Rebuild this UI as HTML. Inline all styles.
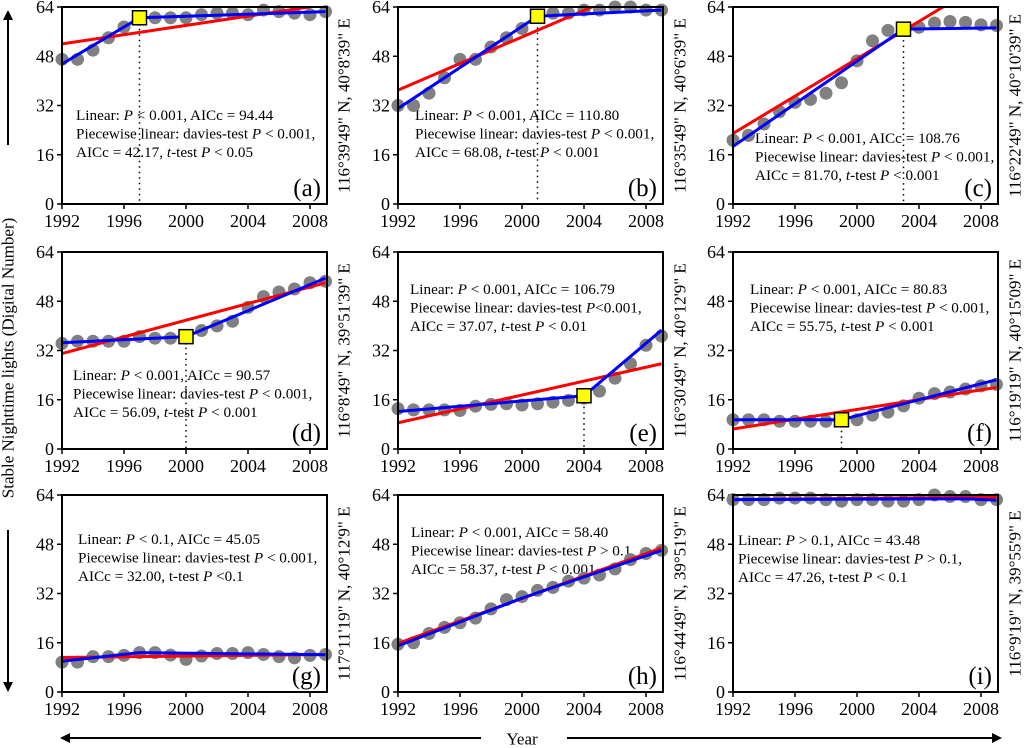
<!DOCTYPE html>
<html><head><meta charset="utf-8">
<style>
body{margin:0;background:#fff;}
svg{display:block;font-family:"Liberation Serif",serif;}
</style></head>
<body>
<svg id="chart" width="1024" height="748" viewBox="0 0 1024 748" xmlns="http://www.w3.org/2000/svg">
<defs>
<marker id="ah" markerWidth="10" markerHeight="10" refX="8" refY="5" orient="auto" markerUnits="userSpaceOnUse"><path d="M0,0 L10,5 L0,10 Z" fill="#000"/></marker>
</defs>
<g>
<line x1="8" y1="145" x2="8" y2="12" stroke="#000" stroke-width="2" marker-end="url(#ah)"/>
<line x1="8" y1="530" x2="8" y2="690" stroke="#000" stroke-width="2" marker-end="url(#ah)"/>
<text x="8" y="358" font-size="17" text-anchor="middle" dominant-baseline="central" transform="rotate(-90 8 358)">Stable Nighttime lights (Digital Number)</text>
</g>
<g>
<line x1="481" y1="738" x2="62" y2="738" stroke="#000" stroke-width="2" marker-end="url(#ah)"/>
<line x1="567" y1="738" x2="1000" y2="738" stroke="#000" stroke-width="2" marker-end="url(#ah)"/>
<text x="522" y="739" font-size="17" text-anchor="middle" dominant-baseline="central">Year</text>
</g>
</svg>
<script>
const years=[1992,1993,1994,1995,1996,1997,1998,1999,2000,2001,2002,2003,2004,2005,2006,2007,2008,2009];
const xTicks=[1992,1996,2000,2004,2008];
const yTicks=[0,16,32,48,64];
const valsA=[47,47,50,54,57.5,60,60.5,60.5,60.5,61.5,62,62,61.5,63,62.5,62,61.5,62.5];
const valsB=[32,32,36,41,47,47,51,54,57,61,62,62,63,63,64,64,63,63];
const valsC=[20.7,22.3,26,30,33,34,36,39.4,46.5,53,56.4,56.5,57.4,58.8,59.3,59,58.2,58];
const valsD=[34.3,35,35,35,35,36.5,36,36,36,38.5,40,41.5,46,49.5,51,52,54,54.5];
const valsE=[13.1,12.7,12.7,12.7,12.5,13.9,14.5,14.7,14.3,14.7,15.2,15.8,16.5,18.8,23,27.7,33.7,36.7];
const valsF=[9.5,9.5,9.5,9,9,9,9,9.5,9.5,11,12,14,16.5,18,18.5,19.5,20.5,21];
const valsG=[9.7,9.7,11.5,11.5,11.9,12.8,12.8,12,10.6,11.7,12.5,12.5,12.8,12.2,11.5,11.1,11.9,12.2];
const valsH=[15.5,16,19,21,22.5,24,27,30,31,33,34,36,37,38,40,43,45,46];
const valsI=[62.5,62.5,62.5,63,63,63,62.5,62,62.5,62.5,62,62,62.5,64,63.5,63.5,62.5,62.5];
const linA=[52,64.8];const linB=[37,73.7];const linC=[22.9,74.5];
const linD=[31,54];const linE=[8.5,27.7];const linF=[6.5,20];
const linG=[11.2,12.2];const linH=[15.8,46.8];const linI=[62.5,63.3];
const pwYearsA=[1992,1997,2009];const pwValsA=[45.5,60.5,62.5];
const pwYearsB=[1992,2001,2009];const pwValsB=[31,61,63];
const pwYearsC=[1992,2003,2009];const pwValsC=[18.7,56.8,57.2];
const pwYearsD=[1992,2000,2009];const pwValsD=[34.5,36.5,55.5];
const pwYearsE=[1992,2004,2009];const pwValsE=[12.2,17.3,38.6];
const pwYearsF=[1992,1999,2009];const pwValsF=[9.5,9.5,22.5];
const pwYearsG=[1992,1997,2009];const pwValsG=[10,12.8,12.1];
const pwYearsH=[1992,2000,2009];const pwValsH=[15,30.5,46];
const pwYearsI=[1992,2007,2009];const pwValsI=[62.5,62.8,62.3];
const breakA=[1997,60.5];const breakB=[2001,61];const breakC=[2003,56.8];
const breakD=[2000,36.5];const breakE=[2004,17.3];const breakF=[1999,9.5];

const NS="http://www.w3.org/2000/svg";
const svg=document.getElementById('chart');
function mk(tag,attrs,parent){const e=document.createElementNS(NS,tag);for(const k in attrs)e.setAttribute(k,attrs[k]);parent.appendChild(e);return e;}

const panels=[
 {id:'a',x0:62,top:7,vals:valsA,lin:linA,pwY:pwYearsA,pwV:pwValsA,brk:breakA,tx:14,ty:115,
  lines:['Linear: <tspan font-style="italic">P</tspan> &lt; 0.001, AICc = 94.44','Piecewise linear: davies-test <tspan font-style="italic">P</tspan> &lt; 0.001,','AICc = 42.17, <tspan font-style="italic">t</tspan>-test <tspan font-style="italic">P</tspan> &lt; 0.05'],
  loc:'116°39\'49" N, 40°8\'39" E'},
 {id:'b',x0:398,top:7,vals:valsB,lin:linB,pwY:pwYearsB,pwV:pwValsB,brk:breakB,tx:17,ty:115,
  lines:['Linear: <tspan font-style="italic">P</tspan> &lt; 0.001, AICc = 110.80','Piecewise linear: davies-test <tspan font-style="italic">P</tspan> &lt; 0.001,','AICc = 68.08, <tspan font-style="italic">t</tspan>-test <tspan font-style="italic">P</tspan> &lt; 0.001'],
  loc:'116°35\'49" N, 40°6\'39" E'},
 {id:'c',x0:733,top:7,vals:valsC,lin:linC,pwY:pwYearsC,pwV:pwValsC,brk:breakC,tx:22,ty:138,
  lines:['Linear: <tspan font-style="italic">P</tspan> &lt; 0.001, AICc = 108.76','Piecewise linear: davies-test <tspan font-style="italic">P</tspan> &lt; 0.001,','AICc = 81.70, <tspan font-style="italic">t</tspan>-test <tspan font-style="italic">P</tspan> &lt; 0.001'],
  loc:'116°22\'49" N, 40°10\'39" E'},
 {id:'d',x0:62,top:252,vals:valsD,lin:linD,pwY:pwYearsD,pwV:pwValsD,brk:breakD,tx:11,ty:375,
  lines:['Linear: <tspan font-style="italic">P</tspan> &lt; 0.001, AICc = 90.57','Piecewise linear: davies-test <tspan font-style="italic">P</tspan> &lt; 0.001,','AICc = 56.09, <tspan font-style="italic">t</tspan>-test <tspan font-style="italic">P</tspan> &lt; 0.001'],
  loc:'116°8\'49" N, 39°51\'39" E'},
 {id:'e',x0:398,top:252,vals:valsE,lin:linE,pwY:pwYearsE,pwV:pwValsE,brk:breakE,tx:12,ty:289,
  lines:['Linear: <tspan font-style="italic">P</tspan> &lt; 0.001, AICc = 106.79','Piecewise linear: davies-test <tspan font-style="italic">P</tspan>&lt;0.001,','AICc = 37.07, <tspan font-style="italic">t</tspan>-test <tspan font-style="italic">P</tspan>  &lt; 0.01'],
  loc:'116°30\'49" N, 40°12\'9" E'},
 {id:'f',x0:733,top:252,vals:valsF,lin:linF,pwY:pwYearsF,pwV:pwValsF,brk:breakF,tx:17,ty:289,
  lines:['Linear: <tspan font-style="italic">P</tspan> &lt; 0.001, AICc = 80.83','Piecewise linear: davies-test <tspan font-style="italic">P</tspan> &lt; 0.001,','AICc = 55.75, <tspan font-style="italic">t</tspan>-test <tspan font-style="italic">P</tspan> &lt; 0.001'],
  loc:'116°19\'19" N, 40°15\'09" E'},
 {id:'g',x0:62,top:495,vals:valsG,lin:linG,pwY:pwYearsG,pwV:pwValsG,brk:null,tx:16,ty:539,
  lines:['Linear: <tspan font-style="italic">P</tspan> &lt; 0.1, AICc = 45.05','Piecewise linear: davies-test <tspan font-style="italic">P</tspan> &lt; 0.001,','AICc = 32.00, t-test <tspan font-style="italic">P</tspan> &lt;0.1'],
  loc:'117°11\'19" N, 40°12\'9" E'},
 {id:'h',x0:398,top:495,vals:valsH,lin:linH,pwY:pwYearsH,pwV:pwValsH,brk:null,tx:13,ty:532,
  lines:['Linear: <tspan font-style="italic">P</tspan> &lt; 0.001, AICc = 58.40','Piecewise linear: davies-test <tspan font-style="italic">P</tspan> &gt; 0.1,','AICc = 58.37, <tspan font-style="italic">t</tspan>-test <tspan font-style="italic">P</tspan> &lt; 0.001'],
  loc:'116°44\'49" N, 39°51\'9" E'},
 {id:'i',x0:733,top:495,vals:valsI,lin:linI,pwY:pwYearsI,pwV:pwValsI,brk:null,tx:5,ty:540,
  lines:['Linear: <tspan font-style="italic">P</tspan> &gt; 0.1, AICc = 43.48','Piecewise  linear: davies-test <tspan font-style="italic">P</tspan> &gt; 0.1,','AICc = 47.26, t-test <tspan font-style="italic">P</tspan> &lt; 0.1'],
  loc:'116°9\'19" N, 39°55\'9" E'}
];
const PX=15.5, H=197;
panels.forEach(p=>{
  const xs=y=>p.x0+(y-1992)*PX;
  const ys=v=>p.top+H-v/64*H;
  const right=xs(2009)+1.5, bottom=ys(0);
  const g=mk('g',{},svg);
  
  
  const cp=mk('clipPath',{id:'clip-'+p.id},g);
  mk('rect',{x:p.x0,y:p.top,width:right-p.x0,height:bottom-p.top},cp);
  xTicks.forEach(t=>{
    const l=mk('line',{x1:xs(t),x2:xs(t),y1:bottom,y2:bottom+5,stroke:'#000','stroke-width':1.5},g);
    
    
    const tx=mk('text',{x:xs(t),y:bottom+23,'font-size':18,'text-anchor':'middle'},g);
    tx.textContent=t;
    
    
  });
  yTicks.forEach(t=>{
    const l=mk('line',{x1:p.x0-5,x2:p.x0,y1:ys(t),y2:ys(t),stroke:'#000','stroke-width':1.5},g);
    
    
    const tx=mk('text',{x:p.x0-8,y:ys(t)+6,'font-size':18,'text-anchor':'end'},g);
    tx.textContent=t;
    
    
  });
  const ann=mk('text',{x:p.x0+p.tx,y:p.ty+5,'font-size':15.2},g);
  
  
  ann.innerHTML=p.lines.map((l,i)=>`<tspan x="${p.x0+p.tx}" dy="${i?18.5:0}">${l}</tspan>`).join('');
  if(p.brk){
    const d=mk('line',{x1:xs(p.brk[0]),x2:xs(p.brk[0]),y1:ys(p.brk[1]),y2:bottom,stroke:'#000','stroke-width':1.5,'stroke-dasharray':'1.5,4'},g);
    
    
  }
  p.vals.forEach((v,i)=>{
    const c=mk('circle',{cx:xs(years[i]),cy:ys(v),r:6.5,fill:'#808080'},g);
    
    
  });
  const pg=mk('g',{'clip-path':'url(#clip-'+p.id+')'},g);
  const lr=mk('line',{x1:xs(1992),y1:ys(p.lin[0]),x2:xs(2009),y2:ys(p.lin[1]),stroke:'#ff0000','stroke-width':3},pg);
  
  
  const pl=mk('polyline',{points:p.pwY.map((y,i)=>xs(y)+','+ys(p.pwV[i])).join(' '),fill:'none',stroke:'#0000ff','stroke-width':3},pg);
  
  
  if(p.brk){
    const s=mk('rect',{x:xs(p.brk[0])-7,y:ys(p.brk[1])-7,width:14,height:14,fill:'#ffff00',stroke:'#000','stroke-width':1.5},g);
    
    
  }
  const fr=mk('rect',{x:p.x0,y:p.top,width:right-p.x0,height:bottom-p.top,fill:'none',stroke:'#000','stroke-width':2},g);
  
  
  const lab=mk('text',{x:right-6,y:bottom-8,'font-size':25,'text-anchor':'end'},g);
  lab.textContent='('+p.id+')';
  
  
  const cy=(p.top+bottom)/2, cx=right+17;
  const loc=mk('text',{x:cx,y:cy,'font-size':17,'text-anchor':'middle','dominant-baseline':'central',transform:`rotate(-90 ${cx} ${cy})`},g);
  loc.textContent=p.loc;
  
  
});
</script>
</body></html>
